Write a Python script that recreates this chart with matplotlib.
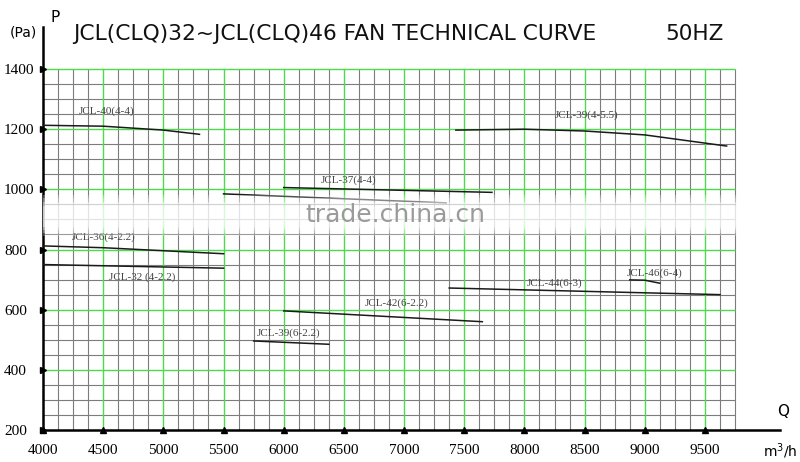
import matplotlib
matplotlib.use("Agg")
import matplotlib.pyplot as plt
import numpy as np

# ---------------- data ----------------
title = "JCL(CLQ)32~JCL(CLQ)46 FAN TECHNICAL CURVE"
freq_label = "50HZ"
x_ticks = [4000, 4500, 5000, 5500, 6000, 6500, 7000, 7500, 8000, 8500, 9000, 9500]
y_ticks = [200, 400, 600, 800, 1000, 1200, 1400]

jcl40_44_q = [4000, 4500, 5000, 5300]
jcl40_44_p = [1213, 1210, 1197, 1183]

jcl39_455_q = [7430, 8000, 8500, 9000, 9680]
jcl39_455_p = [1197, 1200, 1194, 1181, 1144]

jcl37_44_q = [6000, 7730]
jcl37_44_p = [1006, 990]

jcl37b_q = [5500, 7350]
jcl37b_p = [985, 955]

jcl36_q = [4000, 4500, 5500]
jcl36_p = [812, 806, 786]

jcl32_q = [4000, 5500]
jcl32_p = [750, 738]

jcl42_q = [6000, 7650]
jcl42_p = [596, 560]

jcl44_q = [7375, 9625]
jcl44_p = [672, 650]

jcl46_q = [8875, 9000, 9125]
jcl46_p = [699, 698, 688]

jcl39_622_q = [5750, 6375]
jcl39_622_p = [496, 485]

curves = [
    (jcl40_44_q, jcl40_44_p), (jcl39_455_q, jcl39_455_p), (jcl37_44_q, jcl37_44_p),
    (jcl37b_q, jcl37b_p), (jcl36_q, jcl36_p), (jcl32_q, jcl32_p), (jcl42_q, jcl42_p),
    (jcl44_q, jcl44_p), (jcl46_q, jcl46_p), (jcl39_622_q, jcl39_622_p),
]

curve_labels = ["JCL-40(4-4)", "JCL-39(4-5.5)", "JCL-37(4-4)", "JCL-36(4-2.2)",
                "JCL-32 (4-2.2)", "JCL-42(6-2.2)", "JCL-44(6-3)", "JCL-46(6-4)",
                "JCL-39(6-2.2)"]
label_q = [4300, 8250, 6310, 4240, 4550, 6670, 8020, 8850, 5780]
label_p = [1260, 1247, 1031, 842, 709, 622, 689, 722, 523]

# ---------------- figure ----------------
W, H = 800, 462
fig = plt.figure(figsize=(W / 100, H / 100), dpi=100)
x0_px, x1_px = 43, 780
y0_px, y1_px = 430, 27
ax = fig.add_axes([x0_px / W, (H - y0_px) / H, (x1_px - x0_px) / W, (y0_px - y1_px) / H])
ppu_x = 0.12036
ppu_y = 0.3008
ax.set_xlim(4000, 4000 + (x1_px - x0_px) / ppu_x)
ax.set_ylim(200, 200 + (y0_px - y1_px) / ppu_y)

grid_xmax = 9750
grid_ymax = 1400
green = "#4ddb4d"
grey = "#7c7c7c"

for xv in np.arange(4125, grid_xmax + 1, 125):
    major = (xv % 500 == 0) and xv < grid_xmax
    ax.vlines(xv, 200, grid_ymax, color=green if major else grey,
              lw=1.0 if major else 0.8, zorder=1 if not major else 1.5)
for yv in np.arange(250, grid_ymax + 1, 50):
    major = (yv % 200 == 0)
    ax.hlines(yv, 4000, grid_xmax, color=green if major else grey,
              lw=1.0 if major else 0.8, zorder=1 if not major else 1.5)

for q, p in curves:
    ax.plot(q, p, color="#1a1a1a", lw=1.1, zorder=3)

for t, xq, yp in zip(curve_labels, label_q, label_p):
    ax.text(xq, yp, t, fontsize=8, family="Liberation Serif", color="#444444",
            ha="left", va="center", zorder=4)

# watermark band (soft-edged)
for lo, hi, a in [(845, 980, 0.25), (855, 970, 0.3), (865, 958, 0.35), (875, 945, 0.4)]:
    ax.axhspan(lo, hi, color="white", alpha=a, lw=0, zorder=5)
ax.text(6177, 915, "trade.china.cn", fontsize=18, color="#9a9a9a",
        ha="left", va="center", zorder=6)

# spines
for s in ["top", "right"]:
    ax.spines[s].set_visible(False)
ax.spines["left"].set_linewidth(1.8)
ax.spines["bottom"].set_linewidth(1.8)
ax.set_facecolor("white")

# ticks
ax.set_xticks(x_ticks)
ax.set_xticklabels([str(v) for v in x_ticks], family="Liberation Serif", fontsize=11)
ax.set_yticks(y_ticks)
ax.set_yticklabels([str(v) for v in y_ticks], family="Liberation Serif", fontsize=11)
ax.tick_params(axis="x", length=0, pad=10)
ax.tick_params(axis="y", length=0, pad=28)
for lab in ax.get_yticklabels():
    lab.set_horizontalalignment("left")
ax.plot(x_ticks, [200] * len(x_ticks), "^", color="black", ms=4, clip_on=False, zorder=7)
ax.plot([4000] * len(y_ticks), y_ticks, ">", color="black", ms=4, clip_on=False, zorder=7)

# texts
fig.text(73 / W, 1 - 40 / H, title, fontsize=15.7, family="DejaVu Sans",
         ha="left", va="baseline", color="#111111")
fig.text(665 / W, 1 - 40 / H, freq_label, fontsize=15.5, family="DejaVu Sans",
         ha="left", va="baseline", color="#111111")
fig.text(10 / W, 1 - 33 / H, "(Pa)", fontsize=10, family="DejaVu Sans", ha="left", va="center")
fig.text(50 / W, 1 - 18 / H, "P", fontsize=11, family="DejaVu Sans", ha="left", va="center")
fig.text(777 / W, 1 - 412 / H, "Q", fontsize=11, family="DejaVu Sans", ha="left", va="center")
fig.text(763 / W, 1 - 451 / H, "m$^3$/h", fontsize=10, family="DejaVu Sans", ha="left", va="center")

fig.savefig("out.png", dpi=100, facecolor="white")
